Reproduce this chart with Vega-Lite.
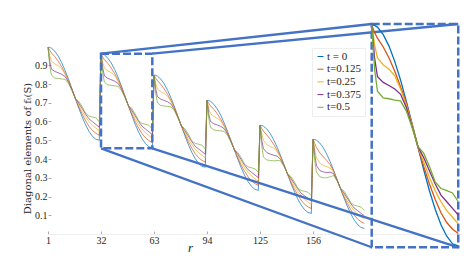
{
"$schema":"https://vega.github.io/schema/vega-lite/v6.json",
"width":414,"height":219,
"autosize":{"type":"none"},
"padding":{"left":48,"top":15,"right":5,"bottom":29},
"background":"white",
"config":{"view":{"stroke":null},"font":"Liberation Serif","axis":{"labelOverlap":false,"labelBound":false}},
"datasets":{
"curves":[
{"t":0,"r":1,"v":0.996},{"t":0,"r":2,"v":0.995},{"t":0,"r":3,"v":0.991},{"t":0,"r":5,"v":0.975},{"t":0,"r":7,"v":0.949},{"t":0,"r":9,"v":0.914},{"t":0,"r":11,"v":0.872},{"t":0,"r":13,"v":0.825},{"t":0,"r":15,"v":0.774},{"t":0,"r":17,"v":0.722},{"t":0,"r":19,"v":0.671},{"t":0,"r":21,"v":0.624},{"t":0,"r":23,"v":0.582},{"t":0,"r":25,"v":0.547},{"t":0,"r":27,"v":0.521},{"t":0,"r":29,"v":0.505},{"t":0,"r":31,"v":0.5},
{"t":0,"r":32,"v":0.96},{"t":0,"r":33,"v":0.959},{"t":0,"r":34,"v":0.955},{"t":0,"r":36,"v":0.938},{"t":0,"r":38,"v":0.912},{"t":0,"r":40,"v":0.877},{"t":0,"r":42,"v":0.835},{"t":0,"r":44,"v":0.787},{"t":0,"r":46,"v":0.736},{"t":0,"r":48,"v":0.684},{"t":0,"r":50,"v":0.633},{"t":0,"r":52,"v":0.585},{"t":0,"r":54,"v":0.543},{"t":0,"r":56,"v":0.508},{"t":0,"r":58,"v":0.482},{"t":0,"r":60,"v":0.465},{"t":0,"r":62,"v":0.46},
{"t":0,"r":63,"v":0.847},{"t":0,"r":64,"v":0.846},{"t":0,"r":65,"v":0.842},{"t":0,"r":67,"v":0.826},{"t":0,"r":69,"v":0.8},{"t":0,"r":71,"v":0.766},{"t":0,"r":73,"v":0.724},{"t":0,"r":75,"v":0.677},{"t":0,"r":77,"v":0.627},{"t":0,"r":79,"v":0.576},{"t":0,"r":81,"v":0.526},{"t":0,"r":83,"v":0.479},{"t":0,"r":85,"v":0.437},{"t":0,"r":87,"v":0.403},{"t":0,"r":89,"v":0.377},{"t":0,"r":91,"v":0.361},{"t":0,"r":93,"v":0.356},
{"t":0,"r":94,"v":0.713},{"t":0,"r":95,"v":0.712},{"t":0,"r":96,"v":0.708},{"t":0,"r":98,"v":0.692},{"t":0,"r":100,"v":0.667},{"t":0,"r":102,"v":0.634},{"t":0,"r":104,"v":0.593},{"t":0,"r":106,"v":0.547},{"t":0,"r":108,"v":0.498},{"t":0,"r":110,"v":0.448},{"t":0,"r":112,"v":0.399},{"t":0,"r":114,"v":0.353},{"t":0,"r":116,"v":0.312},{"t":0,"r":118,"v":0.279},{"t":0,"r":120,"v":0.254},{"t":0,"r":122,"v":0.238},{"t":0,"r":124,"v":0.233},
{"t":0,"r":125,"v":0.58},{"t":0,"r":126,"v":0.579},{"t":0,"r":127,"v":0.575},{"t":0,"r":129,"v":0.56},{"t":0,"r":131,"v":0.535},{"t":0,"r":133,"v":0.502},{"t":0,"r":135,"v":0.463},{"t":0,"r":137,"v":0.418},{"t":0,"r":139,"v":0.37},{"t":0,"r":141,"v":0.32},{"t":0,"r":143,"v":0.272},{"t":0,"r":145,"v":0.228},{"t":0,"r":147,"v":0.188},{"t":0,"r":149,"v":0.155},{"t":0,"r":151,"v":0.13},{"t":0,"r":153,"v":0.115},{"t":0,"r":155,"v":0.11},
{"t":0,"r":156,"v":0.505},{"t":0,"r":157,"v":0.504},{"t":0,"r":158,"v":0.5},{"t":0,"r":160,"v":0.485},{"t":0,"r":162,"v":0.46},{"t":0,"r":164,"v":0.426},{"t":0,"r":166,"v":0.386},{"t":0,"r":168,"v":0.341},{"t":0,"r":170,"v":0.292},{"t":0,"r":172,"v":0.243},{"t":0,"r":174,"v":0.194},{"t":0,"r":176,"v":0.149},{"t":0,"r":178,"v":0.109},{"t":0,"r":180,"v":0.075},{"t":0,"r":182,"v":0.051},{"t":0,"r":184,"v":0.035},{"t":0,"r":186,"v":0.03},
{"t":0.125,"r":1,"v":0.996},{"t":0.125,"r":2,"v":0.979},{"t":0.125,"r":3,"v":0.966},{"t":0.125,"r":5,"v":0.946},{"t":0.125,"r":7,"v":0.922},{"t":0.125,"r":9,"v":0.892},{"t":0.125,"r":11,"v":0.857},{"t":0.125,"r":13,"v":0.82},{"t":0.125,"r":15,"v":0.773},{"t":0.125,"r":17,"v":0.723},{"t":0.125,"r":19,"v":0.679},{"t":0.125,"r":21,"v":0.639},{"t":0.125,"r":23,"v":0.604},{"t":0.125,"r":25,"v":0.574},{"t":0.125,"r":27,"v":0.552},{"t":0.125,"r":29,"v":0.537},{"t":0.125,"r":31,"v":0.527},
{"t":0.125,"r":32,"v":0.96},{"t":0.125,"r":33,"v":0.943},{"t":0.125,"r":34,"v":0.93},{"t":0.125,"r":36,"v":0.91},{"t":0.125,"r":38,"v":0.885},{"t":0.125,"r":40,"v":0.855},{"t":0.125,"r":42,"v":0.82},{"t":0.125,"r":44,"v":0.783},{"t":0.125,"r":46,"v":0.735},{"t":0.125,"r":48,"v":0.685},{"t":0.125,"r":50,"v":0.64},{"t":0.125,"r":52,"v":0.6},{"t":0.125,"r":54,"v":0.565},{"t":0.125,"r":56,"v":0.535},{"t":0.125,"r":58,"v":0.513},{"t":0.125,"r":60,"v":0.498},{"t":0.125,"r":62,"v":0.488},
{"t":0.125,"r":63,"v":0.847},{"t":0.125,"r":64,"v":0.83},{"t":0.125,"r":65,"v":0.818},{"t":0.125,"r":67,"v":0.798},{"t":0.125,"r":69,"v":0.773},{"t":0.125,"r":71,"v":0.744},{"t":0.125,"r":73,"v":0.71},{"t":0.125,"r":75,"v":0.673},{"t":0.125,"r":77,"v":0.626},{"t":0.125,"r":79,"v":0.577},{"t":0.125,"r":81,"v":0.533},{"t":0.125,"r":83,"v":0.494},{"t":0.125,"r":85,"v":0.459},{"t":0.125,"r":87,"v":0.43},{"t":0.125,"r":89,"v":0.408},{"t":0.125,"r":91,"v":0.393},{"t":0.125,"r":93,"v":0.383},
{"t":0.125,"r":94,"v":0.713},{"t":0.125,"r":95,"v":0.696},{"t":0.125,"r":96,"v":0.684},{"t":0.125,"r":98,"v":0.665},{"t":0.125,"r":100,"v":0.641},{"t":0.125,"r":102,"v":0.612},{"t":0.125,"r":104,"v":0.579},{"t":0.125,"r":106,"v":0.543},{"t":0.125,"r":108,"v":0.497},{"t":0.125,"r":110,"v":0.449},{"t":0.125,"r":112,"v":0.406},{"t":0.125,"r":114,"v":0.367},{"t":0.125,"r":116,"v":0.334},{"t":0.125,"r":118,"v":0.305},{"t":0.125,"r":120,"v":0.283},{"t":0.125,"r":122,"v":0.269},{"t":0.125,"r":124,"v":0.259},
{"t":0.125,"r":125,"v":0.58},{"t":0.125,"r":126,"v":0.562},{"t":0.125,"r":127,"v":0.548},{"t":0.125,"r":129,"v":0.528},{"t":0.125,"r":131,"v":0.505},{"t":0.125,"r":133,"v":0.478},{"t":0.125,"r":135,"v":0.446},{"t":0.125,"r":137,"v":0.412},{"t":0.125,"r":139,"v":0.369},{"t":0.125,"r":141,"v":0.322},{"t":0.125,"r":143,"v":0.279},{"t":0.125,"r":145,"v":0.242},{"t":0.125,"r":147,"v":0.209},{"t":0.125,"r":149,"v":0.181},{"t":0.125,"r":151,"v":0.159},{"t":0.125,"r":153,"v":0.145},{"t":0.125,"r":155,"v":0.136},
{"t":0.125,"r":156,"v":0.505},{"t":0.125,"r":157,"v":0.482},{"t":0.125,"r":158,"v":0.462},{"t":0.125,"r":160,"v":0.432},{"t":0.125,"r":162,"v":0.412},{"t":0.125,"r":164,"v":0.392},{"t":0.125,"r":166,"v":0.37},{"t":0.125,"r":168,"v":0.336},{"t":0.125,"r":170,"v":0.291},{"t":0.125,"r":172,"v":0.244},{"t":0.125,"r":174,"v":0.201},{"t":0.125,"r":176,"v":0.163},{"t":0.125,"r":178,"v":0.13},{"t":0.125,"r":180,"v":0.101},{"t":0.125,"r":182,"v":0.08},{"t":0.125,"r":184,"v":0.066},{"t":0.125,"r":186,"v":0.056},
{"t":0.25,"r":1,"v":0.996},{"t":0.25,"r":2,"v":0.951},{"t":0.25,"r":3,"v":0.922},{"t":0.25,"r":5,"v":0.907},{"t":0.25,"r":7,"v":0.897},{"t":0.25,"r":9,"v":0.882},{"t":0.25,"r":11,"v":0.852},{"t":0.25,"r":13,"v":0.815},{"t":0.25,"r":15,"v":0.77},{"t":0.25,"r":17,"v":0.723},{"t":0.25,"r":19,"v":0.689},{"t":0.25,"r":21,"v":0.654},{"t":0.25,"r":23,"v":0.624},{"t":0.25,"r":25,"v":0.599},{"t":0.25,"r":27,"v":0.579},{"t":0.25,"r":29,"v":0.565},{"t":0.25,"r":31,"v":0.55},
{"t":0.25,"r":32,"v":0.96},{"t":0.25,"r":33,"v":0.915},{"t":0.25,"r":34,"v":0.885},{"t":0.25,"r":36,"v":0.87},{"t":0.25,"r":38,"v":0.86},{"t":0.25,"r":40,"v":0.845},{"t":0.25,"r":42,"v":0.815},{"t":0.25,"r":44,"v":0.778},{"t":0.25,"r":46,"v":0.733},{"t":0.25,"r":48,"v":0.685},{"t":0.25,"r":50,"v":0.65},{"t":0.25,"r":52,"v":0.615},{"t":0.25,"r":54,"v":0.585},{"t":0.25,"r":56,"v":0.56},{"t":0.25,"r":58,"v":0.54},{"t":0.25,"r":60,"v":0.525},{"t":0.25,"r":62,"v":0.51},
{"t":0.25,"r":63,"v":0.847},{"t":0.25,"r":64,"v":0.803},{"t":0.25,"r":65,"v":0.773},{"t":0.25,"r":67,"v":0.759},{"t":0.25,"r":69,"v":0.749},{"t":0.25,"r":71,"v":0.734},{"t":0.25,"r":73,"v":0.705},{"t":0.25,"r":75,"v":0.668},{"t":0.25,"r":77,"v":0.624},{"t":0.25,"r":79,"v":0.577},{"t":0.25,"r":81,"v":0.543},{"t":0.25,"r":83,"v":0.508},{"t":0.25,"r":85,"v":0.479},{"t":0.25,"r":87,"v":0.454},{"t":0.25,"r":89,"v":0.435},{"t":0.25,"r":91,"v":0.42},{"t":0.25,"r":93,"v":0.405},
{"t":0.25,"r":94,"v":0.713},{"t":0.25,"r":95,"v":0.67},{"t":0.25,"r":96,"v":0.641},{"t":0.25,"r":98,"v":0.627},{"t":0.25,"r":100,"v":0.617},{"t":0.25,"r":102,"v":0.603},{"t":0.25,"r":104,"v":0.574},{"t":0.25,"r":106,"v":0.538},{"t":0.25,"r":108,"v":0.495},{"t":0.25,"r":110,"v":0.449},{"t":0.25,"r":112,"v":0.415},{"t":0.25,"r":114,"v":0.382},{"t":0.25,"r":116,"v":0.353},{"t":0.25,"r":118,"v":0.329},{"t":0.25,"r":120,"v":0.31},{"t":0.25,"r":122,"v":0.295},{"t":0.25,"r":124,"v":0.281},
{"t":0.25,"r":125,"v":0.58},{"t":0.25,"r":126,"v":0.532},{"t":0.25,"r":127,"v":0.5},{"t":0.25,"r":129,"v":0.476},{"t":0.25,"r":131,"v":0.466},{"t":0.25,"r":133,"v":0.458},{"t":0.25,"r":135,"v":0.44},{"t":0.25,"r":137,"v":0.406},{"t":0.25,"r":139,"v":0.366},{"t":0.25,"r":141,"v":0.322},{"t":0.25,"r":143,"v":0.289},{"t":0.25,"r":145,"v":0.256},{"t":0.25,"r":147,"v":0.228},{"t":0.25,"r":149,"v":0.204},{"t":0.25,"r":151,"v":0.185},{"t":0.25,"r":153,"v":0.171},{"t":0.25,"r":155,"v":0.157},
{"t":0.25,"r":156,"v":0.505},{"t":0.25,"r":157,"v":0.452},{"t":0.25,"r":158,"v":0.405},{"t":0.25,"r":160,"v":0.378},{"t":0.25,"r":162,"v":0.366},{"t":0.25,"r":164,"v":0.36},{"t":0.25,"r":166,"v":0.352},{"t":0.25,"r":168,"v":0.33},{"t":0.25,"r":170,"v":0.289},{"t":0.25,"r":172,"v":0.244},{"t":0.25,"r":174,"v":0.211},{"t":0.25,"r":176,"v":0.177},{"t":0.25,"r":178,"v":0.149},{"t":0.25,"r":180,"v":0.125},{"t":0.25,"r":182,"v":0.106},{"t":0.25,"r":184,"v":0.092},{"t":0.25,"r":186,"v":0.078},
{"t":0.375,"r":1,"v":0.996},{"t":0.375,"r":2,"v":0.922},{"t":0.375,"r":3,"v":0.879},{"t":0.375,"r":5,"v":0.867},{"t":0.375,"r":7,"v":0.86},{"t":0.375,"r":9,"v":0.852},{"t":0.375,"r":11,"v":0.84},{"t":0.375,"r":13,"v":0.81},{"t":0.375,"r":15,"v":0.768},{"t":0.375,"r":17,"v":0.723},{"t":0.375,"r":19,"v":0.698},{"t":0.375,"r":21,"v":0.669},{"t":0.375,"r":23,"v":0.639},{"t":0.375,"r":25,"v":0.614},{"t":0.375,"r":27,"v":0.599},{"t":0.375,"r":29,"v":0.584},{"t":0.375,"r":31,"v":0.569},
{"t":0.375,"r":32,"v":0.96},{"t":0.375,"r":33,"v":0.885},{"t":0.375,"r":34,"v":0.843},{"t":0.375,"r":36,"v":0.83},{"t":0.375,"r":38,"v":0.823},{"t":0.375,"r":40,"v":0.815},{"t":0.375,"r":42,"v":0.803},{"t":0.375,"r":44,"v":0.773},{"t":0.375,"r":46,"v":0.73},{"t":0.375,"r":48,"v":0.685},{"t":0.375,"r":50,"v":0.66},{"t":0.375,"r":52,"v":0.63},{"t":0.375,"r":54,"v":0.6},{"t":0.375,"r":56,"v":0.575},{"t":0.375,"r":58,"v":0.56},{"t":0.375,"r":60,"v":0.545},{"t":0.375,"r":62,"v":0.53},
{"t":0.375,"r":63,"v":0.847},{"t":0.375,"r":64,"v":0.773},{"t":0.375,"r":65,"v":0.732},{"t":0.375,"r":67,"v":0.719},{"t":0.375,"r":69,"v":0.712},{"t":0.375,"r":71,"v":0.705},{"t":0.375,"r":73,"v":0.692},{"t":0.375,"r":75,"v":0.663},{"t":0.375,"r":77,"v":0.621},{"t":0.375,"r":79,"v":0.577},{"t":0.375,"r":81,"v":0.552},{"t":0.375,"r":83,"v":0.523},{"t":0.375,"r":85,"v":0.494},{"t":0.375,"r":87,"v":0.469},{"t":0.375,"r":89,"v":0.454},{"t":0.375,"r":91,"v":0.44},{"t":0.375,"r":93,"v":0.425},
{"t":0.375,"r":94,"v":0.713},{"t":0.375,"r":95,"v":0.641},{"t":0.375,"r":96,"v":0.6},{"t":0.375,"r":98,"v":0.588},{"t":0.375,"r":100,"v":0.581},{"t":0.375,"r":102,"v":0.574},{"t":0.375,"r":104,"v":0.562},{"t":0.375,"r":106,"v":0.533},{"t":0.375,"r":108,"v":0.492},{"t":0.375,"r":110,"v":0.449},{"t":0.375,"r":112,"v":0.425},{"t":0.375,"r":114,"v":0.396},{"t":0.375,"r":116,"v":0.367},{"t":0.375,"r":118,"v":0.343},{"t":0.375,"r":120,"v":0.329},{"t":0.375,"r":122,"v":0.315},{"t":0.375,"r":124,"v":0.3},
{"t":0.375,"r":125,"v":0.58},{"t":0.375,"r":126,"v":0.5},{"t":0.375,"r":127,"v":0.455},{"t":0.375,"r":129,"v":0.434},{"t":0.375,"r":131,"v":0.426},{"t":0.375,"r":133,"v":0.42},{"t":0.375,"r":135,"v":0.415},{"t":0.375,"r":137,"v":0.398},{"t":0.375,"r":139,"v":0.364},{"t":0.375,"r":141,"v":0.322},{"t":0.375,"r":143,"v":0.298},{"t":0.375,"r":145,"v":0.27},{"t":0.375,"r":147,"v":0.242},{"t":0.375,"r":149,"v":0.218},{"t":0.375,"r":151,"v":0.204},{"t":0.375,"r":153,"v":0.19},{"t":0.375,"r":155,"v":0.176},
{"t":0.375,"r":156,"v":0.505},{"t":0.375,"r":157,"v":0.42},{"t":0.375,"r":158,"v":0.365},{"t":0.375,"r":160,"v":0.338},{"t":0.375,"r":162,"v":0.331},{"t":0.375,"r":164,"v":0.328},{"t":0.375,"r":166,"v":0.33},{"t":0.375,"r":168,"v":0.322},{"t":0.375,"r":170,"v":0.287},{"t":0.375,"r":172,"v":0.244},{"t":0.375,"r":174,"v":0.22},{"t":0.375,"r":176,"v":0.192},{"t":0.375,"r":178,"v":0.163},{"t":0.375,"r":180,"v":0.139},{"t":0.375,"r":182,"v":0.125},{"t":0.375,"r":184,"v":0.111},{"t":0.375,"r":186,"v":0.097},
{"t":0.5,"r":1,"v":0.996},{"t":0.5,"r":2,"v":0.897},{"t":0.5,"r":3,"v":0.847},{"t":0.5,"r":5,"v":0.832},{"t":0.5,"r":7,"v":0.83},{"t":0.5,"r":9,"v":0.827},{"t":0.5,"r":11,"v":0.825},{"t":0.5,"r":13,"v":0.803},{"t":0.5,"r":15,"v":0.765},{"t":0.5,"r":17,"v":0.723},{"t":0.5,"r":19,"v":0.708},{"t":0.5,"r":21,"v":0.679},{"t":0.5,"r":23,"v":0.644},{"t":0.5,"r":25,"v":0.629},{"t":0.5,"r":27,"v":0.624},{"t":0.5,"r":29,"v":0.619},{"t":0.5,"r":31,"v":0.599},
{"t":0.5,"r":32,"v":0.96},{"t":0.5,"r":33,"v":0.86},{"t":0.5,"r":34,"v":0.81},{"t":0.5,"r":36,"v":0.795},{"t":0.5,"r":38,"v":0.793},{"t":0.5,"r":40,"v":0.79},{"t":0.5,"r":42,"v":0.788},{"t":0.5,"r":44,"v":0.765},{"t":0.5,"r":46,"v":0.728},{"t":0.5,"r":48,"v":0.685},{"t":0.5,"r":50,"v":0.67},{"t":0.5,"r":52,"v":0.64},{"t":0.5,"r":54,"v":0.605},{"t":0.5,"r":56,"v":0.59},{"t":0.5,"r":58,"v":0.585},{"t":0.5,"r":60,"v":0.58},{"t":0.5,"r":62,"v":0.56},
{"t":0.5,"r":63,"v":0.847},{"t":0.5,"r":64,"v":0.749},{"t":0.5,"r":65,"v":0.7},{"t":0.5,"r":67,"v":0.685},{"t":0.5,"r":69,"v":0.683},{"t":0.5,"r":71,"v":0.68},{"t":0.5,"r":73,"v":0.678},{"t":0.5,"r":75,"v":0.656},{"t":0.5,"r":77,"v":0.619},{"t":0.5,"r":79,"v":0.577},{"t":0.5,"r":81,"v":0.562},{"t":0.5,"r":83,"v":0.533},{"t":0.5,"r":85,"v":0.498},{"t":0.5,"r":87,"v":0.484},{"t":0.5,"r":89,"v":0.479},{"t":0.5,"r":91,"v":0.474},{"t":0.5,"r":93,"v":0.454},
{"t":0.5,"r":94,"v":0.713},{"t":0.5,"r":95,"v":0.617},{"t":0.5,"r":96,"v":0.569},{"t":0.5,"r":98,"v":0.555},{"t":0.5,"r":100,"v":0.552},{"t":0.5,"r":102,"v":0.55},{"t":0.5,"r":104,"v":0.547},{"t":0.5,"r":106,"v":0.526},{"t":0.5,"r":108,"v":0.49},{"t":0.5,"r":110,"v":0.449},{"t":0.5,"r":112,"v":0.435},{"t":0.5,"r":114,"v":0.406},{"t":0.5,"r":116,"v":0.372},{"t":0.5,"r":118,"v":0.358},{"t":0.5,"r":120,"v":0.353},{"t":0.5,"r":122,"v":0.348},{"t":0.5,"r":124,"v":0.329},
{"t":0.5,"r":125,"v":0.58},{"t":0.5,"r":126,"v":0.47},{"t":0.5,"r":127,"v":0.41},{"t":0.5,"r":129,"v":0.395},{"t":0.5,"r":131,"v":0.392},{"t":0.5,"r":133,"v":0.39},{"t":0.5,"r":135,"v":0.392},{"t":0.5,"r":137,"v":0.39},{"t":0.5,"r":139,"v":0.361},{"t":0.5,"r":141,"v":0.322},{"t":0.5,"r":143,"v":0.307},{"t":0.5,"r":145,"v":0.279},{"t":0.5,"r":147,"v":0.246},{"t":0.5,"r":149,"v":0.232},{"t":0.5,"r":151,"v":0.228},{"t":0.5,"r":153,"v":0.223},{"t":0.5,"r":155,"v":0.204},
{"t":0.5,"r":156,"v":0.505},{"t":0.5,"r":157,"v":0.39},{"t":0.5,"r":158,"v":0.33},{"t":0.5,"r":160,"v":0.305},{"t":0.5,"r":162,"v":0.3},{"t":0.5,"r":164,"v":0.3},{"t":0.5,"r":166,"v":0.305},{"t":0.5,"r":168,"v":0.312},{"t":0.5,"r":170,"v":0.284},{"t":0.5,"r":172,"v":0.244},{"t":0.5,"r":174,"v":0.23},{"t":0.5,"r":176,"v":0.201},{"t":0.5,"r":178,"v":0.168},{"t":0.5,"r":180,"v":0.154},{"t":0.5,"r":182,"v":0.149},{"t":0.5,"r":184,"v":0.144},{"t":0.5,"r":186,"v":0.125}
],
"boxes":[{"x":32,"x2":62,"y":0.457,"y2":0.962},{"x":190.3,"x2":240.9,"y":-0.0709,"y2":1.12}],
"links":[{"x":32,"y":0.962,"x2":190.3,"y2":1.12},{"x":62,"y":0.962,"x2":240.9,"y2":1.12},{"x":32,"y":0.457,"x2":190.3,"y2":-0.0709},{"x":62,"y":0.457,"x2":240.9,"y2":-0.0709}]
},
"layer":[
{"layer":[
{"data":{"name":"curves"},"mark":{"type":"line","strokeWidth":0.7},
"encoding":{
"x":{"field":"r","type":"quantitative","scale":{"domain":[1,243.1],"nice":false,"zero":false},
"axis":{"values":[1,32,63,94,125,156],"tickCount":30,"title":"r","titleFontStyle":"italic","titleFont":"Liberation Serif","titleFontSize":13,"titleFontWeight":"normal","titleColor":"#262626","titleX":142,"titleY":17,"titleBaseline":"alphabetic","labelFont":"Liberation Serif","labelFontSize":10,"labelColor":"#262626","labelPadding":4,"tickSize":-3,"tickColor":"#aaaaaa","domainColor":"#eeeeee","grid":false,"labelFlush":false,"labelOverlap":false}},
"y":{"field":"v","type":"quantitative","scale":{"domain":[0,1.168],"nice":false,"zero":false},
"axis":{"values":[0.1,0.2,0.3,0.4,0.5,0.6,0.7,0.8,0.9],"tickCount":30,"format":".1f","title":"Diagonal elements of fₜ(S)","titleFont":"DejaVu Serif","titleFontSize":10,"titleFontWeight":"normal","titleColor":"#262626","titleX":-18,"titleY":133,"titleBaseline":"alphabetic","labelFont":"Liberation Serif","labelFontSize":10,"labelColor":"#262626","labelPadding":4,"tickSize":-3,"tickColor":"#aaaaaa","domain":false,"grid":false,"labelOverlap":false,"labelBound":false}},
"color":{"field":"t","type":"nominal","scale":{"domain":[0,0.125,0.25,0.375,0.5],"range":["#0072BD","#D95319","#EDB120","#7E2F8E","#77AC30"]},
"legend":{"orient":"none","legendX":264,"legendY":33,"title":null,"symbolType":"stroke","symbolSize":36,"symbolStrokeWidth":1,"labelFont":"Liberation Serif","labelFontSize":11,"labelColor":"#262626","labelOffset":1,"rowPadding":0.7,"padding":3,"fillColor":"white","strokeColor":"#eeeeee","labelExpr":"datum.value == 0 ? 't = 0' : 't=' + datum.value"}}
}},
{"data":{"name":"boxes"},"mark":{"type":"rect","fill":"white","fillOpacity":0,"stroke":"#4472C4","strokeWidth":2.5,"strokeDash":[8,3]},
"encoding":{
"x":{"field":"x","type":"quantitative","scale":{"domain":[1,243.1],"nice":false,"zero":false}},
"x2":{"field":"x2"},
"y":{"field":"y","type":"quantitative","scale":{"domain":[0,1.168],"nice":false,"zero":false}},
"y2":{"field":"y2"}}},
{"data":{"name":"links"},"mark":{"type":"rule","stroke":"#4472C4","strokeWidth":2.3},
"encoding":{
"x":{"field":"x","type":"quantitative","scale":{"domain":[1,243.1],"nice":false,"zero":false}},
"x2":{"field":"x2"},
"y":{"field":"y","type":"quantitative","scale":{"domain":[0,1.168],"nice":false,"zero":false}},
"y2":{"field":"y2"}}}
]},
{"data":{"name":"curves"},"transform":[{"filter":"datum.r >= 32 && datum.r <= 62"}],
"mark":{"type":"line","strokeWidth":1.3},
"encoding":{
"x":{"field":"r","type":"quantitative","scale":{"domain":[-80.14,63.28],"nice":false,"zero":false},"axis":null},
"y":{"field":"v","type":"quantitative","scale":{"domain":[0.4871,0.9824],"nice":false,"zero":false},"axis":null},
"color":{"field":"t","type":"nominal","scale":{"domain":[0,0.125,0.25,0.375,0.5],"range":["#0072BD","#D95319","#EDB120","#7E2F8E","#77AC30"]}}
}}
],
"resolve":{"scale":{"x":"independent","y":"independent"}}
}
